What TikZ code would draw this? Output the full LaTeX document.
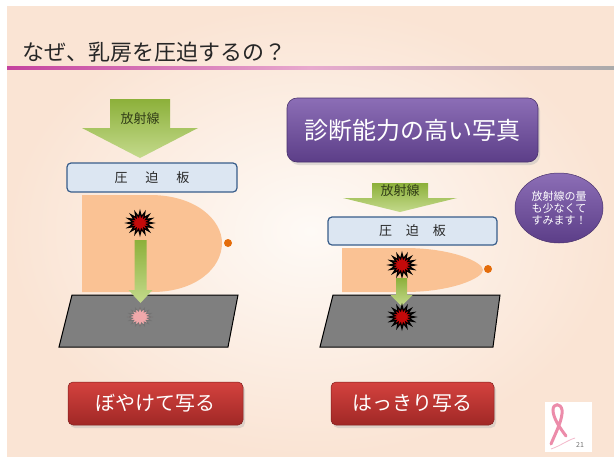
\documentclass[tikz,border=0pt]{standalone}
\usepackage{fontspec}
\setmainfont{Noto Sans CJK JP}
\usetikzlibrary{shapes.geometric}

\definecolor{slidepeach}{RGB}{250,228,212}
\definecolor{slidelight}{RGB}{254,250,246}
\definecolor{rulemag}{RGB}{196,66,158}
\definecolor{rulepink}{RGB}{232,170,206}
\definecolor{rulegray}{RGB}{170,170,170}
\definecolor{arrowtop}{RGB}{140,176,58}
\definecolor{arrowbot}{RGB}{196,218,140}
\definecolor{arrowtext}{RGB}{50,62,24}
\definecolor{platefill}{RGB}{220,230,242}
\definecolor{plateedge}{RGB}{56,93,138}
\definecolor{breast}{RGB}{250,194,148}
\definecolor{nipple}{RGB}{228,108,10}
\definecolor{filmgray}{RGB}{127,127,127}
\definecolor{lesion}{RGB}{196,10,10}
\definecolor{lesionsoft}{RGB}{240,168,170}
\definecolor{purpletop}{RGB}{140,110,182}
\definecolor{purplebot}{RGB}{92,62,136}
\definecolor{redtop}{RGB}{212,66,62}
\definecolor{redbot}{RGB}{160,40,38}
\definecolor{ribbon}{RGB}{236,140,170}

\tikzset{
  jp/.style={font=\fontsize{#1}{#1}\selectfont},
  beam/.style={top color=arrowtop, bottom color=arrowbot, draw=none},
  beamlabel/.style={jp=13, text=arrowtext, inner sep=0},
  plate/.style={draw=plateedge, line width=1.2pt, fill=platefill,
    rounded corners=4pt, jp=13, inner sep=0, text=black!85},
  tissue/.style={fill=breast, draw=none},
  nip/.style={circle, fill=nipple, inner sep=0, minimum size=8pt},
  film/.style={fill=filmgray, draw=black, line width=1pt},
  tumor/.style={star, star points=16, star point ratio=1.8, inner sep=0,
    minimum size=23pt, fill=lesion, draw=black, line width=1.3pt, xscale=1.1},
  tumorblur/.style={star, star points=16, star point ratio=1.6, inner sep=0,
    minimum size=19pt, fill=lesionsoft, draw=black!55, line width=0.8pt, xscale=1.25},
  headline/.style={rounded corners=10pt, top color=purpletop, bottom color=purplebot,
    draw=purplebot!80!black, line width=0.6pt, text=white, jp=24},
  result/.style={rounded corners=5pt, top color=redtop, bottom color=redbot,
    draw=redbot!80!black, line width=0.5pt, text=white, jp=20},
}

\begin{document}
\begin{tikzpicture}[x=1pt,y=-1pt]
\useasboundingbox (0,0) rectangle (614,459);
\fill[white] (0,0) rectangle (614,459);

% slide background
\shade[inner color=slidelight, outer color=slidepeach] (7,6) rectangle (614,456);

% title and rule
\node[anchor=west, jp=22, text=black!85, inner sep=0] (title) at (22,52) {なぜ、乳房を圧迫するの？};
\shade[left color=rulemag, right color=rulegray, middle color=rulepink] (7,66.5) rectangle (614,69);

% ---------- left: uncompressed ----------
\path[beam] (110,99) -- (170,99) -- (170,128) -- (198,128) -- (140,158) -- (82,128) -- (110,128) -- cycle;
\node[beamlabel] (beamL) at (140,119) {放射線};
\node[plate, minimum width=170pt, minimum height=29pt] (plateL) at (152,177.5) {圧\hspace{18pt}迫\hspace{18pt}板};

\path[tissue] (82,195) -- (150,195) .. controls (196,195) and (222,220) .. (222,243)
  .. controls (222,268) and (196,292) .. (152,292) -- (82,292) -- cycle;
\node[nip] (nipL) at (228,243) {};

\path[film] (72,295) -- (238,295) -- (228,347) -- (59,347) -- cycle;

\node[tumor] (tumorL) at (140,223) {};
\path[beam] (134.5,240) -- (146.5,240) -- (146.5,290) -- (152.5,290) -- (140.5,303)
  -- (128.5,290) -- (134.5,290) -- cycle;
\node[tumorblur] (imageL) at (140,317) {};

% ---------- right: compressed ----------
\fill[black!30, opacity=0.4, rounded corners=10pt] (289,101) rectangle (540,165);
\node[headline, minimum width=251pt, minimum height=64pt] (quality) at (412.5,130) {診断能力の高い写真};

\path[beam] (372,183) -- (428,183) -- (428,198) -- (457,198) -- (400,212) -- (343,198) -- (372,198) -- cycle;
\node[beamlabel] (beamR) at (400,191) {放射線};
\node[plate, minimum width=169pt, minimum height=28pt] (plateR) at (412.5,231) {圧\hspace{14pt}迫\hspace{14pt}板};

\path[tissue] (342,248) -- (405,248) .. controls (452,248) and (483,262) .. (483,270)
  .. controls (483,278) and (452,292) .. (405,292) -- (342,292) -- cycle;
\node[nip] (nipR) at (488,269) {};

\path[film] (333,295) -- (500,295) -- (493,347) -- (320,347) -- cycle;

\node[tumor] (tumorR) at (402,265) {};
\path[beam] (396,278) -- (407,278) -- (407,295) -- (412.5,295) -- (401.5,306)
  -- (390.5,295) -- (396,295) -- cycle;
\node[tumor] (imageR) at (402,317) {};

% dose note
\node[ellipse, minimum width=88pt, minimum height=70pt, inner sep=0,
  top color=purpletop, bottom color=purplebot, draw=purplebot!80!black, line width=0.5pt,
  text=white, jp=11, align=center] (dose) at (559,208)
  {放射線の量\\[1pt]も少なくて\\[1pt]すみます！};

% ---------- result buttons ----------
\fill[black!30, opacity=0.4, rounded corners=5pt] (70,385) rectangle (245,428);
\fill[black!30, opacity=0.4, rounded corners=5pt] (333,385) rectangle (496,428);
\node[result, minimum width=175pt, minimum height=43pt] (blurry) at (155.5,403.5) {ぼやけて写る};
\node[result, minimum width=163pt, minimum height=43pt] (sharp) at (412.5,403.5) {はっきり写る};

% ---------- ribbon emblem ----------
\fill[white] (545,402) rectangle (592,452);
\draw[ribbon!60, line width=0.8pt] (551,449) .. controls (560,446) and (568,440) .. (575,438);
\draw[ribbon, line width=3pt, line cap=round]
  (551,444) .. controls (556,432) and (563,419) .. (562,410)
  .. controls (561,403) and (553,403) .. (553,410)
  .. controls (553,418) and (560,428) .. (566,436);
\node[jp=7, text=black!55, inner sep=0] (pagenum) at (580,445) {21};
\end{tikzpicture}
\end{document}
